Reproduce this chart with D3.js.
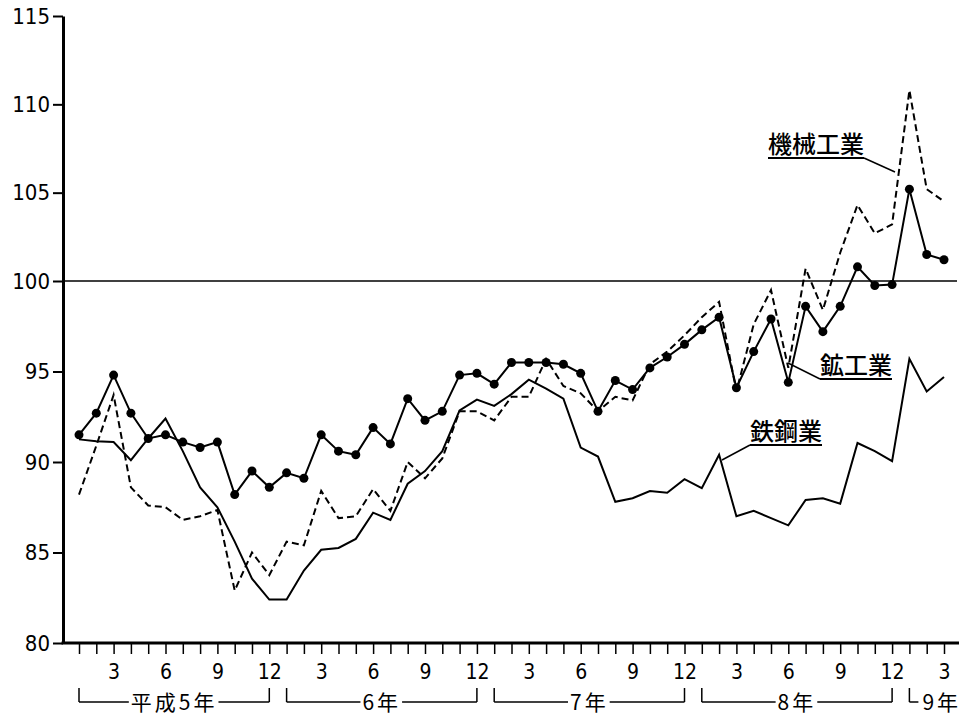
<!DOCTYPE html>
<html>
<head>
<meta charset="utf-8">
<script src="https://cdn.jsdelivr.net/npm/d3@7"></script>
<style>
    body { margin: 0; background: #fff; }
    .num { font-family: "DejaVu Sans Condensed", "DejaVu Sans", sans-serif; font-stretch: condensed; }
    .jp { font-family: "Noto Sans CJK JP", sans-serif; }
</style>
</head>
<body>
<div id="svgContainer"></div>
<script>
// index values, Jan H5 (1993) .. Mar H9 (1997), one per month
var mining = [91.5, 92.7, 94.8, 92.7, 91.3, 91.5, 91.1, 90.8, 91.1, 88.2, 89.5, 88.6,
    89.4, 89.1, 91.5, 90.6, 90.4, 91.9, 91.0, 93.5, 92.3, 92.8, 94.8, 94.9,
    94.3, 95.5, 95.5, 95.5, 95.4, 94.9, 92.8, 94.5, 94.0, 95.2, 95.8, 96.5,
    97.3, 98.0, 94.1, 96.1, 97.9, 94.4, 98.6, 97.2, 98.6, 100.8, 99.75, 99.8,
    105.2, 101.5, 101.2];
var machinery = [88.2, 90.9, 93.7, 88.6, 87.6, 87.5, 86.8, 87.0, 87.35, 82.9, 85.0, 83.75,
    85.6, 85.4, 88.4, 86.9, 87.0, 88.5, 87.3, 90.0, 89.1, 90.2, 92.8, 92.8,
    92.3, 93.6, 93.6, 95.7, 94.2, 93.8, 92.8, 93.6, 93.4, 95.4, 96.1, 97.0,
    98.0, 98.85, 93.9, 97.6, 99.5, 95.2, 100.7, 98.4, 101.6, 104.3, 102.7, 103.2,
    110.8, 105.2, 104.5];
var steel = [91.25, 91.15, 91.1, 90.1, 91.3, 92.4, 90.6, 88.6, 87.5, 85.6, 83.55, 82.4,
    82.4, 84.0, 85.15, 85.25, 85.75, 87.2, 86.8, 88.8, 89.5, 90.6, 92.85, 93.45,
    93.1, 93.75, 94.55, 94.05, 93.5, 90.8, 90.3, 87.8, 88.0, 88.4, 88.3, 89.05,
    88.55, 90.4, 87.0, 87.3, 86.9, 86.5, 87.9, 88.0, 87.7, 91.05, 90.6, 90.05,
    95.7, 93.9, 94.7];

var yTicks = [80, 85, 90, 95, 100, 105, 110, 115];
var monthTicks = [3, 6, 9, 12];
var yearNames = ["平成5年", "6年", "7年", "8年", "9年"];
var yearStart = [0, 12, 24, 36, 48];

var width = 970, height = 718;

var svg = d3.select("#svgContainer")
    .append("svg")
    .attr("width", width)
    .attr("height", height);

// scales (the scanned axis is slightly uneven, hence 3 stops)
var x = d3.scaleLinear()
    .domain([0, 50])
    .range([79, 944]);
var y = d3.scaleLinear()
    .domain([80, 100, 115])
    .range([643, 281, 16]);

var axisLeftX = 63, axisBottomY = 643;

// reference line at 100
svg.append("line")
    .attr("x1", axisLeftX)
    .attr("x2", 957)
    .attr("y1", y(100))
    .attr("y2", y(100))
    .style("stroke", "#000")
    .style("stroke-width", 1.5);

// y axis
var yAxis = svg.append("g")
    .attr("transform", "translate(" + axisLeftX + ",0)")
    .call(d3.axisLeft(y).tickValues(yTicks).tickSize(10).tickSizeOuter(0).tickPadding(3));
yAxis.select(".domain").style("stroke-width", 3);
yAxis.selectAll(".tick line").style("stroke-width", 2);
yAxis.selectAll("text")
    .attr("class", "num")
    .style("font-size", "22px")
    .style("fill", "#000");

// x axis: a tick every month, numbers on 3, 6, 9, 12
var xAxis = svg.append("g")
    .attr("transform", "translate(0," + axisBottomY + ")")
    .call(d3.axisBottom(x)
        .tickValues(d3.range(mining.length))
        .tickSize(11)
        .tickPadding(10)
        .tickFormat(function(i) {
            var m = i % 12 + 1;
            return monthTicks.indexOf(m) >= 0 ? m : "";
        }));
xAxis.select(".domain").remove();
xAxis.selectAll(".tick line").style("stroke-width", 1.5);
xAxis.selectAll("text")
    .attr("class", "num")
    .style("font-size", "21px")
    .style("fill", "#000");
svg.append("line")
    .attr("x1", axisLeftX - 1.5)
    .attr("x2", 959)
    .attr("y1", axisBottomY)
    .attr("y2", axisBottomY)
    .style("stroke", "#000")
    .style("stroke-width", 3);

// year brackets under the month numbers
var brTop = 688, brY = 702;
yearNames.forEach(function(name, k) {
    var x0 = x(yearStart[k]);
    var last = k === yearNames.length - 1;
    var x1 = last ? x0 + 9 : x(yearStart[k] + 11);
    var g = svg.append("g").style("stroke", "#000").style("stroke-width", 1.5);
    var t = svg.append("text")
        .attr("class", "jp")
        .attr("x", last ? x1 + 4 : (x0 + x1) / 2)
        .attr("y", brY + 8)
        .attr("text-anchor", last ? "start" : "middle")
        .style("font-size", "21px")
        .style("letter-spacing", "3px")
        .text(name);
    var bb = t.node().getBBox();
    g.append("line").attr("x1", x0).attr("x2", x0).attr("y1", brTop).attr("y2", brY);
    g.append("line").attr("x1", x0).attr("x2", last ? x1 : bb.x - 2).attr("y1", brY).attr("y2", brY);
    if (!last) {
        g.append("line").attr("x1", bb.x + bb.width + 1).attr("x2", x1).attr("y1", brY).attr("y2", brY);
        g.append("line").attr("x1", x1).attr("x2", x1).attr("y1", brTop).attr("y2", brY);
    }
});

// series lines
var line = d3.line()
    .x(function(d, i) { return x(i); })
    .y(function(d) { return y(d); });

svg.append("path")
    .datum(steel)
    .attr("d", line)
    .style("fill", "none")
    .style("stroke", "#000")
    .style("stroke-width", 2);

svg.append("path")
    .datum(machinery)
    .attr("d", line)
    .style("fill", "none")
    .style("stroke", "#000")
    .style("stroke-width", 2)
    .style("stroke-dasharray", "7,4");

svg.append("path")
    .datum(mining)
    .attr("d", line)
    .style("fill", "none")
    .style("stroke", "#000")
    .style("stroke-width", 2);

svg.selectAll(".dot")
    .data(mining)
    .enter()
    .append("circle")
    .attr("class", "dot")
    .attr("cx", function(d, i) { return x(i); })
    .attr("cy", function(d) { return y(d); })
    .attr("r", 4.5)
    .style("fill", "#000");

// series labels: underlined text with a leader to the line
var notes = [
    {text: "機械工業", x: 768, y: 153, lx: 895, ly: 172},
    {text: "鉱工業", x: 820, y: 374, lx: 788, ly: 363},
    {text: "鉄鋼業", x: 750, y: 440, lx: 722, ly: 460}
];
notes.forEach(function(n) {
    var t = svg.append("text")
        .attr("class", "jp")
        .attr("x", n.x)
        .attr("y", n.y)
        .style("font-size", "24px")
        .style("font-weight", 500)
        .text(n.text);
    var bb = t.node().getBBox();
    var uy = n.y + 5;
    svg.append("line")
        .attr("x1", bb.x).attr("x2", bb.x + bb.width)
        .attr("y1", uy).attr("y2", uy)
        .style("stroke", "#000").style("stroke-width", 2);
    // leader starts from whichever end of the underline is nearer
    var sx = n.lx > bb.x + bb.width / 2 ? bb.x + bb.width : bb.x;
    svg.append("line")
        .attr("x1", sx).attr("x2", n.lx)
        .attr("y1", uy).attr("y2", n.ly)
        .style("stroke", "#000").style("stroke-width", 1.5);
});
</script>
</body>
</html>
